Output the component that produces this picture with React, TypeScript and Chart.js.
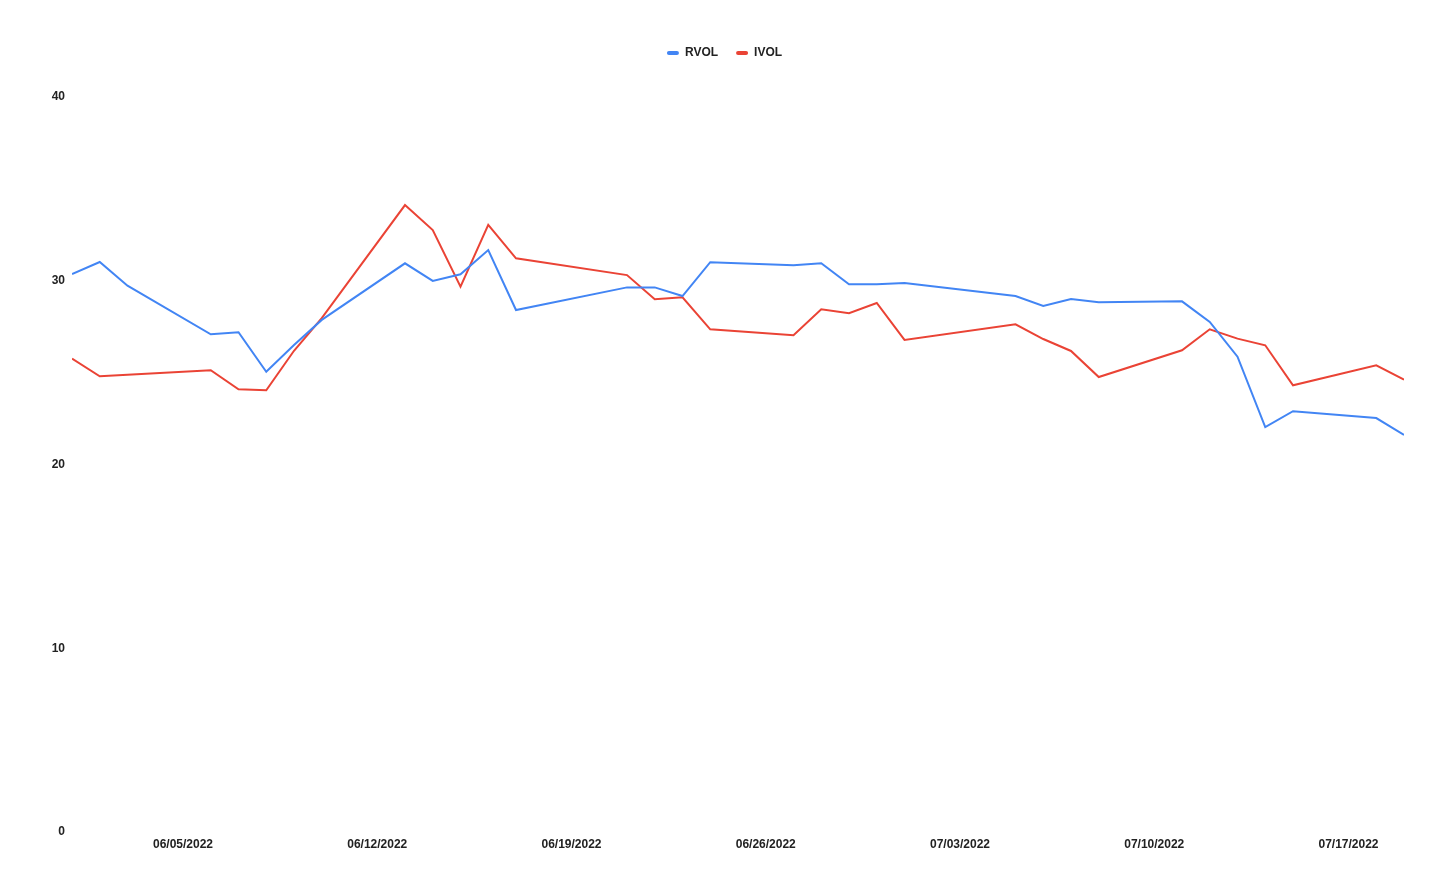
import React, { useEffect, useRef } from 'react';
import { Chart, registerables } from 'chart.js';

Chart.register(...registerables);

const dates = [
  '06/01/2022', '06/02/2022', '06/03/2022', '06/06/2022', '06/07/2022', '06/08/2022', '06/09/2022', '06/10/2022',
  '06/13/2022', '06/14/2022', '06/15/2022', '06/16/2022', '06/17/2022', '06/21/2022', '06/22/2022', '06/23/2022',
  '06/24/2022', '06/27/2022', '06/28/2022', '06/29/2022', '06/30/2022', '07/01/2022', '07/05/2022', '07/06/2022',
  '07/07/2022', '07/08/2022', '07/11/2022', '07/12/2022', '07/13/2022', '07/14/2022', '07/15/2022', '07/18/2022',
  '07/19/2022',
];

const rvol = [
  30.26, 30.91, 29.62, 26.98, 27.09, 24.94, 26.39, 27.76,
  30.84, 29.88, 30.24, 31.56, 28.3, 29.53, 29.53, 29.06,
  30.9, 30.73, 30.84, 29.7, 29.7, 29.77, 29.06, 28.52,
  28.9, 28.72, 28.77, 27.65, 25.76, 21.93, 22.79, 22.42,
  21.5,
];

const ivol = [
  25.65, 24.69, 24.77, 25.02, 23.98, 23.93, 26.08, 27.86,
  34.01, 32.65, 29.57, 32.93, 31.11, 30.2, 28.88, 28.99,
  27.25, 26.92, 28.34, 28.12, 28.68, 26.67, 27.52, 26.72,
  26.07, 24.65, 26.11, 27.25, 26.74, 26.38, 24.2, 25.29,
  24.51,
];

const xTickLabels = ['06/05/2022', '06/12/2022', '06/19/2022', '06/26/2022', '07/03/2022', '07/10/2022', '07/17/2022'];
const yTickValues = [0, 10, 20, 30, 40];
const seriesNames = ['RVOL', 'IVOL'];
const seriesColors = ['#4285F4', '#EA4335'];

const toUtc = (s: string) => {
  const [m, d, y] = s.split('/').map(Number);
  return Date.UTC(y, m - 1, d);
};
const baseDay = toUtc(dates[0]);
const dayIndex = (s: string) => Math.round((toUtc(s) - baseDay) / 86400000);

const FONT = { family: 'Arial, "Liberation Sans", sans-serif', size: 12, weight: 'bold' as const };
const TEXT = '#222222';

const legendSpacer = {
  id: 'legendSpacer',
  beforeLayout(chart: any) {
    const lg = chart.legend;
    if (!lg || lg._spacerPatched) return;
    const orig = lg.fit.bind(lg);
    lg.fit = function () {
      orig();
      this.height = 66;
    };
    lg._spacerPatched = true;
  },
};

export default function App() {
  const ref = useRef<HTMLCanvasElement | null>(null);

  useEffect(() => {
    if (!ref.current) return;
    const series = [rvol, ivol];
    const chart = new Chart(ref.current, {
      type: 'line',
      data: {
        datasets: series.map((vals, i) => ({
          label: seriesNames[i],
          data: vals.map((v, j) => ({ x: dayIndex(dates[j]), y: v })),
          borderColor: seriesColors[i],
          backgroundColor: seriesColors[i],
          borderWidth: 2,
          pointRadius: 0,
          pointHoverRadius: 0,
          tension: 0,
          fill: false,
        })),
      },
      options: {
        responsive: false,
        animation: false,
        layout: { padding: { top: 29, left: 0, right: 0, bottom: 0 } },
        plugins: {
          legend: {
            display: true,
            position: 'top',
            align: 'center',
            labels: {
              font: FONT,
              color: TEXT,
              boxWidth: 12,
              boxHeight: 4,
              padding: 18,
              useBorderRadius: true,
              borderRadius: 2,
              generateLabels: (c: any) =>
                Chart.defaults.plugins.legend.labels.generateLabels(c).map((it: any) => ({ ...it, lineWidth: 0 })),
            },
          },
          tooltip: { enabled: false },
        },
        scales: {
          x: {
            type: 'linear',
            min: dayIndex(dates[0]),
            max: dayIndex(dates[dates.length - 1]),
            grid: { display: false, drawTicks: false },
            border: { display: false },
            afterBuildTicks: (s: any) => {
              s.ticks = xTickLabels.map((l) => ({ value: dayIndex(l) }));
            },
            afterFit: (s: any) => {
              s.height = 66;
            },
            ticks: {
              autoSkip: false,
              maxRotation: 0,
              padding: 7,
              font: FONT,
              color: TEXT,
              callback: (v: any) => {
                const lbl = xTickLabels.find((l) => dayIndex(l) === v);
                return lbl ?? '';
              },
            },
          },
          y: {
            type: 'linear',
            position: 'left',
            min: 0,
            max: 40,
            grid: { display: false, drawTicks: false },
            border: { display: false },
            afterBuildTicks: (s: any) => {
              s.ticks = yTickValues.map((v) => ({ value: v }));
            },
            afterFit: (s: any) => {
              s.width = 72;
            },
            ticks: {
              padding: 7,
              labelOffset: 2,
              font: FONT,
              color: TEXT,
            },
          },
          yRight: {
            type: 'linear',
            position: 'right',
            display: true,
            grid: { display: false, drawTicks: false },
            border: { display: false },
            ticks: { display: false },
            afterFit: (s: any) => {
              s.width = 45;
            },
          },
        },
      },
      plugins: [legendSpacer],
    } as any);
    return () => chart.destroy();
  }, []);

  return (
    <div style={{ position: 'fixed', left: 0, top: 0, width: 1449, height: 896, background: '#ffffff' }}>
      <canvas ref={ref} width={1449} height={896} style={{ display: 'block' }} />
    </div>
  );
}
